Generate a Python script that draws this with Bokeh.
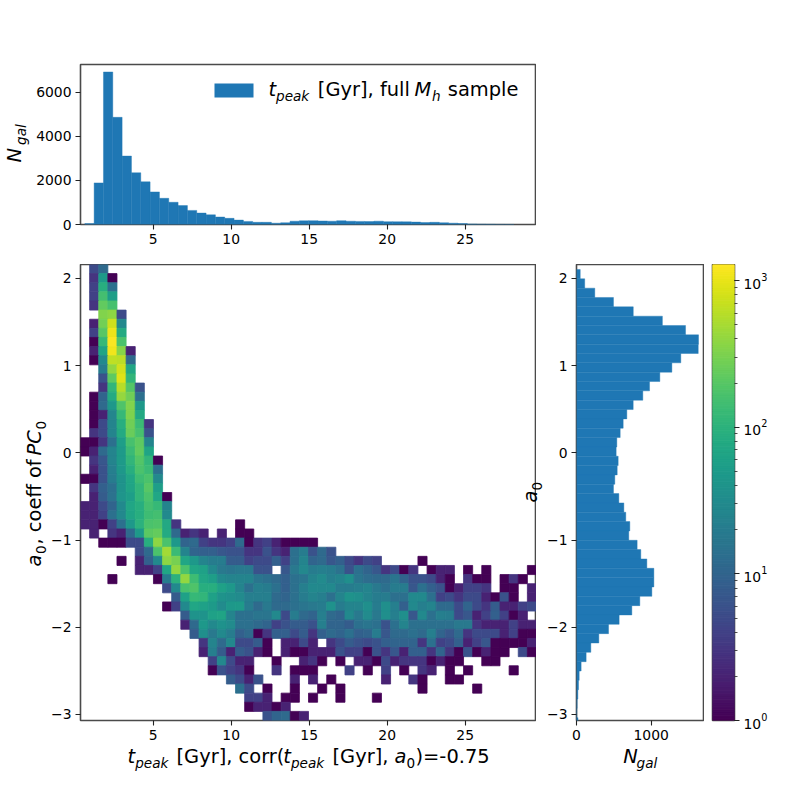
import numpy as np
from bokeh.plotting import figure
from bokeh.layouts import row, column
from bokeh.models import (Range1d, FixedTicker, LogColorMapper, Label, BoxAnnotation,
                          ColumnDataSource, LogTicker)
from bokeh.palettes import Viridis256
from bokeh.transform import transform
from bokeh.embed import file_html
from bokeh.resources import INLINE

# ---------- data ----------
x_lo, x_hi = 0.34, 29.57
y_hi, y_lo = 2.16, -3.07
n_x, n_y = 50, 50

# 2D histogram, rows from the top: (first column, counts)
heat_rows = [
 (1,[5,12]), (1,[3,50,1]), (1,[4,90,14]), (1,[4,150,55]), (1,[3,230,160]),
 (2,[330,380,5]), (1,[2,280,750,28]), (1,[4,200,1050,80]), (1,[1,120,1250,170]),
 (1,[2,65,1100,350,2]), (1,[1,30,650,620,12]), (2,[20,400,800,70]), (2,[6,220,900,110]),
 (2,[3,110,600,190,6]), (1,[1,10,80,420,270,14]), (1,[1,12,45,180,330,45]),
 (1,[1,2,27,120,320,75]), (1,[1,5,25,90,270,130,3]), (1,[3,5,25,80,250,160,6]),
 (0,[1,1,3,14,55,160,220,25]), (0,[1,2,12,25,50,130,230,65]), (1,[3,7,25,50,110,190,110,1]),
 (1,[2,6,22,45,90,170,130,14]), (0,[1,1,6,20,40,70,140,170,30]), (1,[3,9,14,40,65,110,200,55]),
 (1,[2,8,15,42,55,110,170,70,1]), (0,[2,2,5,10,30,70,90,150,120,25]), (0,[2,2,4,14,28,65,90,140,150,30]),
 (0,[2,2,1,4,14,45,100,170,180,75,3,0,0,0,0,0,0,1]),
 (1,[2,0,3,2,12,50,210,240,80,12,2,3,2,0,2,0,1,1]),
 (2,[1,1,1,5,5,90,380,170,45,10,12,4,3,3,4,12,1,3,4,2,1,1,1,1]),
 (6,[5,12,170,480,130,25,10,9,9,7,6,6,3,3,6,3,2,14,20,6,12,6]),
 (4,[1,0,2,9,30,380,300,70,45,25,20,20,8,8,4,5,5,9,4,14,25,10,12,7,9,5,3,5,4,0,0,0,0,1]),
 (6,[2,2,4,70,400,170,70,60,30,18,16,18,18,6,6,0,7,18,28,20,22,20,15,6,14,10,7,3,5,1,3,0,1,2,2,0,1,0,1,0,0,0,0,1]),
 (3,[1,0,0,0,0,1,20,100,400,140,70,55,30,25,25,25,16,14,12,9,14,16,25,32,22,25,35,16,13,12,12,16,10,6,6,5,2,1,0,3,1,1,0,1,3,1]),
 (9,[5,30,160,180,90,90,60,45,25,14,22,20,14,9,14,22,30,28,30,20,20,22,25,18,14,20,20,7,14,9,6,1,2,4,4,3,0,1,1,0,2]),
 (10,[8,60,120,110,60,40,35,32,22,22,22,12,10,14,20,25,22,14,25,40,35,25,20,20,14,14,30,30,14,4,5,3,5,5,2,1,6,1,0,2]),
 (9,[1,4,30,70,60,50,32,45,50,20,12,18,12,12,14,16,18,20,38,20,25,25,35,20,35,22,9,30,22,25,12,12,5,10,5,3,8,2,2,4,5]),
 (11,[8,40,40,60,65,25,14,14,16,16,30,5,20,12,10,22,12,10,30,18,32,18,35,22,35,7,30,14,22,20,5,7,2,4,9,4,1,2]),
 (11,[2,12,45,30,38,32,14,14,12,10,4,6,8,8,6,22,10,10,8,14,16,14,6,14,25,14,14,14,14,14,18,18,3,2,2,2,4,2,2]),
 (12,[8,35,18,30,20,9,12,1,3,9,9,5,8,3,9,12,10,14,9,10,20,7,12,12,14,12,22,10,7,12,3,5,5,5,2,4,1,1]),
 (13,[3,25,12,28,5,5,8,1,0,2,2,5,2,0,3,5,8,6,5,6,9,10,10,10,3,14,4,5,9,2,4,7,1,1,1,1,2]),
 (13,[2,22,8,2,8,6,2,1,0,2,1,1,2,2,2,6,4,4,1,6,3,7,2,9,9,3,10,3,1,6,1,2,1,1,0,5,1]),
 (14,[4,28,5,2,2,0,0,1,0,0,2,3,1,0,1,0,2,2,1,5,2,3,3,3,1,2,1,1,0,0,1,1]),
 (14,[1,6,4,3,1,0,0,3,0,1,1,1,0,0,0,4,0,1,0,4,0,1,0,3,2,0,1,0,1,0,0,0,0,1]),
 (16,[8,5,2,6,0,0,0,2,0,2,0,1,0,0,0,0,0,2,0,0,3,1,0,0,1,1]),
 (17,[14,5,0,1,0,0,1,0,0,1,0,1,0,0,0,0,0,0,0,0,1,0,0,0,0,0,1]),
 (18,[4,4,2,0,1,1,0,1,0,0,1,0,0,0,1]),
 (18,[1,2,2,1,2]),
 (20,[6,10,12,1,2]),
]

# marginal histogram of t_peak (bins from the left)
top_x0, top_dx = 0.616, 0.598
top_counts = [40,1890,6930,4870,3110,2350,1940,1480,1190,1010,860,640,520,440,340,280,200,140,100,100,
              60,80,150,170,175,160,150,175,150,140,135,150,130,125,120,110,90,100,80,60,45,25,15,10,5,3]

# marginal histogram of a0 (bins from the top)
side_y0, side_dy = 2.103, -0.1071
side_counts = [50,110,245,495,760,1150,1460,1634,1630,1397,1277,1116,978,888,759,674,625,585,540,531,
               558,545,513,495,567,634,660,714,700,812,861,942,1036,1036,1009,848,741,571,429,299,192,
               129,62,36,27,18,9,5,20]

x_ticks = [5, 10, 15, 20, 25]
y_ticks = [2, 1, 0, -1, -2, -3]
y_tick_labels = {2:"2", 1:"1", 0:"0", -1:"\u22121", -2:"\u22122", -3:"\u22123"}
top_y_ticks = [0, 2000, 4000, 6000]
side_x_ticks = [0, 1000]
cbar_low, cbar_high = 1, 1288

BLUE = "#1f77b4"
FRAME = "#4a4a4a"
FONT = "DejaVu Sans"
TICK = "13.9px"
BIG = 19.44
SUB = 13.6
PAGE_W, PAGE_H = 770, 776


def style(p):
    p.grid.visible = False
    p.outline_line_color = FRAME
    p.outline_line_width = 1.6
    p.background_fill_color = None
    p.border_fill_color = None
    for ax in p.axis:
        ax.axis_line_color = None
        ax.major_tick_line_color = "#222222"
        ax.major_tick_line_width = 1.1
        ax.major_tick_in = 0
        ax.major_tick_out = 5
        ax.minor_tick_line_color = None
        ax.major_label_text_font = FONT
        ax.major_label_text_font_size = TICK
        ax.major_label_text_color = "black"
        ax.major_label_standoff = 4


# transparent layer over the panels: holds axis titles and the legend text
overlay = figure(width=PAGE_W, height=PAGE_H, min_border=0, x_range=Range1d(0, PAGE_W), y_range=Range1d(PAGE_H, 0),
                 x_axis_type=None, y_axis_type=None, tools="", toolbar_location=None, output_backend="svg",
                 margin=(-PAGE_H, 0, 0, 0))
overlay.outline_line_color = None
overlay.background_fill_color = None
overlay.border_fill_color = None
overlay.grid.visible = False


def put(text, px, py, size=BIG, italic=False, vertical=False):
    """Place a text piece with its baseline start at page pixel (px, py)."""
    off = 0.36 * size
    overlay.add_layout(Label(x=px - off if vertical else px, y=py if vertical else py - off,
                             x_units="data", y_units="data",
                             text=text, text_font=FONT, text_font_size=f"{size}px",
                             text_font_style="italic" if italic else "normal", text_color="black",
                             text_align="left", text_baseline="alphabetic",
                             angle=(np.pi / 2 if vertical else 0)))


# ---------- colour mapper ----------
mapper = LogColorMapper(palette=Viridis256, low=cbar_low, high=cbar_high)

# ---------- top histogram ----------
top = figure(width=536, height=264, min_border_left=80, min_border_right=0, min_border_top=64,
             min_border_bottom=40, x_range=Range1d(x_lo, x_hi), y_range=Range1d(0, 7270),
             tools="", toolbar_location=None, output_backend="svg")
edges = top_x0 + top_dx * np.arange(len(top_counts) + 1)
top.quad(left=edges[:-1], right=edges[1:], bottom=0, top=top_counts, fill_color=BLUE, line_color=BLUE, line_width=0.4)
style(top)
top.xaxis.ticker = FixedTicker(ticks=x_ticks)
top.yaxis.ticker = FixedTicker(ticks=top_y_ticks)
top.add_layout(BoxAnnotation(left=214 - 80, right=253 - 80, bottom=224 - 97, top=224 - 83,
                             left_units="screen", right_units="screen", bottom_units="screen", top_units="screen",
                             fill_color=BLUE, fill_alpha=1, line_color=None))
put("t", 268, 96, italic=True)
put("peak", 275.5, 100, SUB, italic=True)
put("[Gyr], full", 317.3, 96)
put("M", 414, 96, italic=True)
put("h", 431.5, 100, SUB, italic=True)
put("sample", 447.3, 96)
put("N", 21, 162, italic=True, vertical=True)
put("gal", 25, 144.5, SUB, italic=True, vertical=True)

# ---------- main 2D histogram ----------
main = figure(width=536, height=512, min_border_left=80, min_border_right=0, min_border_top=0,
              min_border_bottom=56, x_range=Range1d(x_lo, x_hi), y_range=Range1d(y_lo, y_hi),
              tools="", toolbar_location=None, output_backend="svg")
xe = np.linspace(x_lo, x_hi, n_x + 1)
ye = np.linspace(y_hi, y_lo, n_y + 1)
L, R, B, Tp, V = [], [], [], [], []
for r, (c0, vals) in enumerate(heat_rows):
    for i, v in enumerate(vals):
        if v > 0:
            c = c0 + i
            L.append(xe[c]); R.append(xe[c + 1]); Tp.append(ye[r]); B.append(ye[r + 1]); V.append(v)
src = ColumnDataSource(dict(left=L, right=R, top=Tp, bottom=B, value=V))
main.quad(left="left", right="right", top="top", bottom="bottom", source=src,
          fill_color=transform("value", mapper), line_color=transform("value", mapper), line_width=0.8)
style(main)
main.xaxis.ticker = FixedTicker(ticks=x_ticks)
main.yaxis.ticker = FixedTicker(ticks=y_ticks)
main.yaxis.major_label_overrides = y_tick_labels
put("t", 127, 763, italic=True)
put("peak", 134.7, 767, SUB, italic=True)
put("[Gyr], corr(", 176, 763)
put("t", 282.7, 763, italic=True)
put("peak", 290.4, 767, SUB, italic=True)
put("[Gyr],", 332, 763)
put("a", 394, 763, italic=True)
put("0", 406, 767, SUB)
put(")=-0.75", 415, 763)
put("a", 41, 566, italic=True, vertical=True)
put("0", 45, 553.5, SUB, vertical=True)
put(", coeff of", 41, 544, vertical=True)
put("PC", 41, 455, italic=True, vertical=True)
put("0", 45, 429, SUB, vertical=True)

# ---------- side histogram ----------
side = figure(width=168, height=512, min_border_left=40, min_border_right=0, min_border_top=0,
              min_border_bottom=56, x_range=Range1d(0, 1714), y_range=Range1d(y_lo, y_hi),
              tools="", toolbar_location=None, output_backend="svg")
sedges = side_y0 + side_dy * np.arange(len(side_counts) + 1)
side.quad(left=0, right=side_counts, top=sedges[:-1], bottom=sedges[1:], fill_color=BLUE, line_color=BLUE, line_width=0.4)
style(side)
side.xaxis.ticker = FixedTicker(ticks=side_x_ticks)
side.yaxis.ticker = FixedTicker(ticks=y_ticks)
side.yaxis.major_label_overrides = y_tick_labels
put("N", 622.7, 763, italic=True)
put("gal", 636, 767, SUB, italic=True)
put("a", 537, 502, italic=True, vertical=True)
put("0", 541, 490, SUB, vertical=True)

# ---------- colour bar ----------
cb = figure(width=66, height=512, min_border_left=8, min_border_right=35, min_border_top=0,
            min_border_bottom=56, x_range=Range1d(0, 1), y_range=Range1d(cbar_low, cbar_high),
            y_axis_type="log", y_axis_location="right",
            tools="", toolbar_location=None, output_backend="svg")
lev = np.logspace(np.log10(cbar_low), np.log10(cbar_high), 257)
cb.quad(left=0, right=1, bottom=lev[:-1], top=lev[1:], fill_color=Viridis256, line_color=Viridis256, line_width=1)
style(cb)
cb.xaxis.visible = False
cb.yaxis.ticker = LogTicker(num_minor_ticks=10)
cb.yaxis.minor_tick_line_color = "#222222"
cb.yaxis.minor_tick_line_width = 0.8
cb.yaxis.minor_tick_in = 0
cb.yaxis.minor_tick_out = 3

panels = column(top, row(main, side, cb, spacing=0), spacing=0)
layout = column(panels, overlay, spacing=0)
open("out.html", "w").write(file_html(layout, INLINE))
